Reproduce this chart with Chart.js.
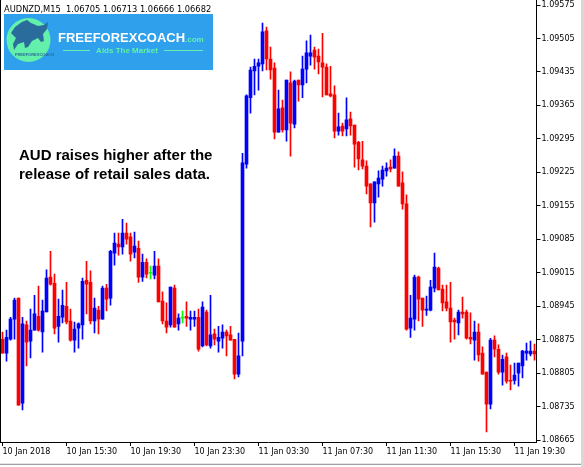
<!DOCTYPE html>
<html>
<head>
<meta charset="utf-8">
<script src="https://cdn.jsdelivr.net/npm/chart.js@4.4.1/dist/chart.umd.min.js"></script>
<style>
  html, body { margin: 0; padding: 0; background: #fff; }
  canvas { display: block; }
</style>
</head>
<body>
<canvas id="chart" width="584" height="467"></canvas>
<script>
const symbolTitle = 'AUDNZD,M15  1.06705 1.06713 1.06666 1.06682';
const noteLines = ['AUD raises higher after the', 'release of retail sales data.'];
const tickLabels = ['10 Jan 2018', '10 Jan 15:30', '10 Jan 19:30', '10 Jan 23:30', '11 Jan 03:30',
  '11 Jan 07:30', '11 Jan 11:30', '11 Jan 15:30', '11 Jan 19:30'];
const yTicks = [1.08665, 1.08735, 1.08805, 1.08875, 1.08945, 1.09015, 1.09085, 1.09155,
  1.09225, 1.09295, 1.09365, 1.09435, 1.09505, 1.09575];

// 15 minute candles
const opens = [
  1.08876, 1.08847, 1.08876, 1.08918, 1.08962, 1.08742, 1.08906, 1.08872, 1.08895, 1.08924,
  1.08891, 1.08933, 1.09006, 1.08993, 1.08903, 1.08922, 1.08945, 1.08914, 1.08874, 1.08899,
  1.08906, 1.08999, 1.08995, 1.08914, 1.08937, 1.08918, 1.08983, 1.08962, 1.09056, 1.09075,
  1.09069, 1.09098, 1.09090, 1.09058, 1.09066, 1.09006, 1.09037, 1.09014, 1.09010, 1.09029,
  1.08956, 1.08914, 1.08906, 1.08983, 1.08908, 1.08920, 1.08924, 1.08918, 1.08918, 1.08922,
  1.08862, 1.08933, 1.08862, 1.08887, 1.08872, 1.08878, 1.08891, 1.08885, 1.08876, 1.08803,
  1.08872, 1.09242, 1.09381, 1.09437, 1.09447, 1.09452, 1.09521, 1.09462, 1.09443, 1.09309,
  1.09360, 1.09314, 1.09412, 1.09326, 1.09418, 1.09408, 1.09441, 1.09468, 1.09481, 1.09468,
  1.09454, 1.09445, 1.09389, 1.09387, 1.09311, 1.09322, 1.09316, 1.09337, 1.09324, 1.09288,
  1.09251, 1.09238, 1.09201, 1.09161, 1.09201, 1.09211, 1.09228, 1.09236, 1.09234, 1.09259,
  1.09203, 1.09159, 1.08899, 1.08918, 1.09006, 1.08962, 1.08937, 1.08937, 1.08983, 1.09025,
  1.08981, 1.08954, 1.08941, 1.08916, 1.08910, 1.08933, 1.08933, 1.08880, 1.08874, 1.08891,
  1.08847, 1.08807, 1.08740, 1.08874, 1.08855, 1.08807, 1.08839, 1.08790, 1.08790, 1.08805,
  1.08820, 1.08847, 1.08845, 1.08851
];
const highs = [
  1.08891, 1.08895, 1.08922, 1.08962, 1.08962, 1.08922, 1.08914, 1.08939, 1.08968, 1.08987,
  1.08958, 1.09021, 1.09060, 1.09012, 1.08960, 1.08979, 1.08995, 1.08939, 1.08912, 1.08910,
  1.09004, 1.09039, 1.09019, 1.08962, 1.08945, 1.08987, 1.08991, 1.09062, 1.09098, 1.09098,
  1.09127, 1.09119, 1.09098, 1.09100, 1.09081, 1.09054, 1.09044, 1.09029, 1.09060, 1.09044,
  1.08975, 1.08952, 1.08985, 1.08989, 1.08929, 1.08935, 1.08954, 1.08935, 1.08935, 1.08939,
  1.08954, 1.08937, 1.08968, 1.08897, 1.08903, 1.08906, 1.08895, 1.08903, 1.08876, 1.08889,
  1.09265, 1.09387, 1.09445, 1.09462, 1.09462, 1.09537, 1.09529, 1.09487, 1.09454, 1.09397,
  1.09376, 1.09418, 1.09435, 1.09418, 1.09418, 1.09468, 1.09500, 1.09512, 1.09487, 1.09483,
  1.09516, 1.09452, 1.09447, 1.09406, 1.09349, 1.09328, 1.09381, 1.09351, 1.09324, 1.09290,
  1.09290, 1.09249, 1.09201, 1.09205, 1.09228, 1.09238, 1.09245, 1.09251, 1.09274, 1.09268,
  1.09226, 1.09178, 1.08968, 1.09010, 1.09008, 1.08962, 1.08966, 1.08999, 1.09056, 1.09027,
  1.08989, 1.08989, 1.08995, 1.08920, 1.08937, 1.08964, 1.08937, 1.08931, 1.08914, 1.08908,
  1.08860, 1.08807, 1.08878, 1.08883, 1.08864, 1.08843, 1.08847, 1.08822, 1.08826, 1.08826,
  1.08853, 1.08868, 1.08872, 1.08866
];
const lows = [
  1.08847, 1.08830, 1.08874, 1.08876, 1.08738, 1.08728, 1.08820, 1.08837, 1.08895, 1.08893,
  1.08849, 1.08933, 1.08989, 1.08887, 1.08870, 1.08910, 1.08908, 1.08872, 1.08849, 1.08857,
  1.08876, 1.08929, 1.08908, 1.08889, 1.08887, 1.08918, 1.08935, 1.08947, 1.09031, 1.09052,
  1.09054, 1.09075, 1.09039, 1.09046, 1.08995, 1.08997, 1.09004, 1.09002, 1.09002, 1.08954,
  1.08908, 1.08889, 1.08901, 1.08901, 1.08895, 1.08910, 1.08903, 1.08895, 1.08903, 1.08851,
  1.08860, 1.08862, 1.08857, 1.08864, 1.08849, 1.08857, 1.08841, 1.08874, 1.08793, 1.08797,
  1.08841, 1.09234, 1.09349, 1.09387, 1.09397, 1.09437, 1.09439, 1.09420, 1.09295, 1.09309,
  1.09309, 1.09290, 1.09259, 1.09318, 1.09374, 1.09381, 1.09412, 1.09449, 1.09441, 1.09431,
  1.09383, 1.09387, 1.09383, 1.09297, 1.09303, 1.09301, 1.09301, 1.09303, 1.09236, 1.09230,
  1.09232, 1.09180, 1.09111, 1.09121, 1.09173, 1.09196, 1.09217, 1.09226, 1.09234, 1.09196,
  1.09148, 1.08895, 1.08880, 1.08895, 1.08914, 1.08903, 1.08926, 1.08935, 1.08975, 1.08979,
  1.08935, 1.08935, 1.08870, 1.08876, 1.08885, 1.08920, 1.08876, 1.08866, 1.08832, 1.08830,
  1.08803, 1.08682, 1.08730, 1.08839, 1.08803, 1.08780, 1.08784, 1.08770, 1.08782, 1.08778,
  1.08795, 1.08832, 1.08841, 1.08832
];
const closes = [
  1.08847, 1.08880, 1.08918, 1.08958, 1.08738, 1.08908, 1.08870, 1.08895, 1.08929, 1.08895,
  1.08935, 1.09004, 1.08991, 1.08899, 1.08924, 1.08947, 1.08912, 1.08874, 1.08897, 1.08908,
  1.08997, 1.08991, 1.08914, 1.08941, 1.08918, 1.08983, 1.08960, 1.09060, 1.09077, 1.09069,
  1.09098, 1.09085, 1.09054, 1.09071, 1.09006, 1.09037, 1.09012, 1.09014, 1.09029, 1.08954,
  1.08914, 1.08901, 1.08985, 1.08901, 1.08920, 1.08920, 1.08920, 1.08922, 1.08922, 1.08855,
  1.08943, 1.08864, 1.08885, 1.08876, 1.08880, 1.08891, 1.08883, 1.08874, 1.08803, 1.08841,
  1.09245, 1.09385, 1.09439, 1.09447, 1.09454, 1.09519, 1.09462, 1.09439, 1.09309, 1.09358,
  1.09314, 1.09418, 1.09328, 1.09416, 1.09408, 1.09441, 1.09475, 1.09475, 1.09466, 1.09456,
  1.09445, 1.09387, 1.09385, 1.09311, 1.09320, 1.09311, 1.09335, 1.09322, 1.09284, 1.09253,
  1.09238, 1.09196, 1.09161, 1.09205, 1.09213, 1.09230, 1.09234, 1.09232, 1.09259, 1.09196,
  1.09159, 1.08897, 1.08920, 1.09006, 1.08960, 1.08937, 1.08939, 1.08985, 1.09027, 1.08979,
  1.08952, 1.08941, 1.08912, 1.08912, 1.08933, 1.08929, 1.08878, 1.08876, 1.08891, 1.08843,
  1.08803, 1.08740, 1.08874, 1.08855, 1.08807, 1.08834, 1.08788, 1.08788, 1.08801, 1.08826,
  1.08851, 1.08851, 1.08851, 1.08845
];

const UP = '#0000ff';
const DOWN = '#ff0000';
const DOJI = '#00ff00';

const pad2 = (n) => String(n).padStart(2, '0');

// category labels: one per 15 min bar, from 10 Jan 11:30
const times = opens.map((_, i) => {
  const m = 11 * 60 + 30 + 15 * i;
  const day = 10 + Math.floor(m / 1440);
  const mm = m % 1440;
  return `${day} Jan ${pad2(Math.floor(mm / 60))}:${pad2(mm % 60)}`;
});

const candleColors = opens.map((o, i) => {
  if (closes[i] > o) return UP;
  if (closes[i] < o) return DOWN;
  return DOJI;
});

const decorPlugin = {
  id: 'decor',
  afterDraw(chart) {
    const ctx = chart.ctx;
    const area = chart.chartArea;
    ctx.save();

    // frame on the left
    ctx.strokeStyle = '#000';
    ctx.lineWidth = 1;
    ctx.beginPath();
    ctx.moveTo(0.5, 0);
    ctx.lineTo(0.5, area.bottom + 1);
    ctx.stroke();

    // window edges
    ctx.fillStyle = '#d8d8d8';
    ctx.fillRect(581, 0, 3, 467);
    ctx.fillStyle = '#a0a0a0';
    ctx.fillRect(0, 464, 581, 1);
    ctx.fillStyle = '#e4e4e4';
    ctx.fillRect(0, 463, 581, 1);

    // title
    ctx.fillStyle = '#000';
    ctx.font = '8.3px "DejaVu Sans"';
    ctx.textBaseline = 'alphabetic';
    ctx.textAlign = 'left';
    ctx.fillText(symbolTitle, 4, 12);

    // logo
    ctx.fillStyle = '#2ea0ec';
    ctx.fillRect(4, 14, 209, 56);
    ctx.fillStyle = '#62f0aa';
    ctx.beginPath();
    ctx.arc(28.5, 40, 22, 0, Math.PI * 2);
    ctx.fill();
    ctx.fillStyle = '#2a6d9c';
    ctx.beginPath();
    ctx.moveTo(11, 33);
    ctx.lineTo(15, 27);
    ctx.lineTo(22, 22);
    ctx.lineTo(27, 20);
    ctx.lineTo(31, 23);
    ctx.lineTo(38, 26);
    ctx.lineTo(44, 25);
    ctx.lineTo(48, 22);
    ctx.lineTo(47, 29);
    ctx.lineTo(43, 34);
    ctx.lineTo(44, 41);
    ctx.lineTo(41, 42);
    ctx.lineTo(38, 38);
    ctx.lineTo(32, 41);
    ctx.lineTo(28, 47);
    ctx.lineTo(25, 48);
    ctx.lineTo(24, 42);
    ctx.lineTo(18, 44);
    ctx.lineTo(14, 50);
    ctx.lineTo(13, 44);
    ctx.lineTo(16, 38);
    ctx.closePath();
    ctx.fill();
    ctx.font = 'bold 4px "Liberation Sans"';
    ctx.fillText('FREEFOREXCOACH', 15, 56);

    ctx.fillStyle = '#ffffff';
    ctx.font = 'bold 13px "Liberation Sans"';
    ctx.fillText('FREEFOREXCOACH', 58, 42);
    ctx.fillStyle = '#62f0aa';
    ctx.font = 'bold 8px "Liberation Sans"';
    ctx.fillText('.com', 185, 42);
    ctx.font = 'bold 8px "Liberation Sans"';
    ctx.textAlign = 'center';
    ctx.fillText('Aids The Market', 127, 53);
    ctx.fillRect(63, 50, 27, 1);
    ctx.fillRect(164, 50, 39, 1);

    // note
    ctx.fillStyle = '#000';
    ctx.textAlign = 'left';
    ctx.font = 'bold 15px "Liberation Sans"';
    ctx.fillText(noteLines[0], 19, 160);
    ctx.fillText(noteLines[1], 19, 179);

    ctx.restore();
  }
};

new Chart(document.getElementById('chart'), {
  type: 'bar',
  data: {
    labels: times,
    datasets: [
      {
        label: 'wick',
        data: lows.map((l, i) => [l, highs[i]]),
        backgroundColor: candleColors,
        barThickness: 1,
        grouped: false,
        minBarLength: 1,
        order: 2
      },
      {
        label: 'body',
        data: opens.map((o, i) => [o, closes[i]]),
        backgroundColor: candleColors,
        barThickness: 3,
        grouped: false,
        minBarLength: 1,
        order: 1
      }
    ]
  },
  options: {
    responsive: false,
    animation: false,
    devicePixelRatio: 1,
    layout: { padding: { left: 0.5, top: 0, right: 0, bottom: 0 } },
    plugins: {
      legend: { display: false },
      tooltip: { enabled: false }
    },
    scales: {
      x: {
        offset: true,
        grid: {
          offset: false,
          drawOnChartArea: false,
          drawTicks: true,
          tickLength: 4,
          color: '#000'
        },
        border: { display: true, color: '#000' },
        ticks: {
          autoSkip: false,
          maxRotation: 0,
          minRotation: 0,
          align: 'start',
          padding: 1,
          color: '#000',
          font: { family: 'DejaVu Sans', size: 8 },
          callback: (val, i) => (i % 16 === 0 ? tickLabels[i / 16] : null)
        },
        afterFit(scale) {
          scale.height = 25;
          scale.paddingLeft = 0;
          scale.paddingRight = 0;
        }
      },
      y: {
        position: 'right',
        min: 1.08661,
        max: 1.095855,
        grid: {
          drawOnChartArea: false,
          drawTicks: true,
          tickLength: 4,
          color: '#000'
        },
        border: { display: true, color: '#000' },
        ticks: {
          padding: 1,
          color: '#000',
          font: { family: 'DejaVu Sans', size: 8 },
          callback: (v) => v.toFixed(5)
        },
        afterBuildTicks(scale) {
          scale.ticks = yTicks.map(v => ({ value: v }));
        },
        afterFit(scale) {
          scale.width = 47.5;
          scale.paddingTop = 0;
          scale.paddingBottom = 0;
        }
      }
    }
  },
  plugins: [decorPlugin]
});
</script>
</body>
</html>
